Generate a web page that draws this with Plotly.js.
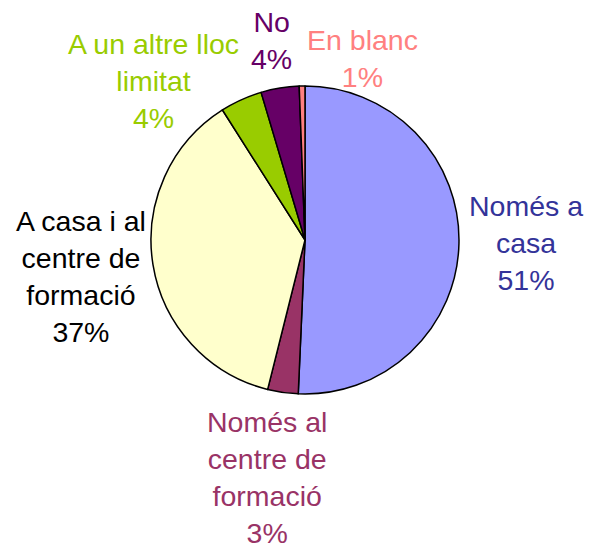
<!DOCTYPE html>
<html>
<head>
<meta charset="utf-8">
<script src="https://cdn.plot.ly/plotly-3.0.1.min.js"></script>
<style>html,body{margin:0;padding:0;background:#fff;}#chart{width:590px;height:549px;}</style>
</head>
<body>
<div id="chart"></div>
<script>
const categories = ["Només a casa", "Només al centre de formació", "A casa i al centre de formació", "A un altre lloc limitat", "No", "En blanc"];
const values = [50.7, 3.2, 37.1, 4.4, 4.0, 0.6];
const pctLabels = ["51%", "3%", "37%", "4%", "4%", "1%"];
const labelLines = [["Només a", "casa"], ["Només al", "centre de", "formació"], ["A casa i al", "centre de", "formació"], ["A un altre lloc", "limitat"], ["No"], ["En blanc"]];
const sliceColors = ["#9999FF", "#993366", "#FFFFCC", "#99CC00", "#660066", "#FF8080"];
const textColors = ["#333399", "#993366", "#000000", "#99CC00", "#660066", "#FF8080"];

const W = 590, H = 549;
const cx = 305, cy = 240, r = 154;
// label anchor centres (px) of the text blocks
const labelPos = [[526, 243], [267, 477], [81, 276], [153, 81], [271, 40], [362, 59]];

const annotations = categories.map((c, i) => ({
  text: labelLines[i].concat([pctLabels[i]]).join("<br>"),
  x: labelPos[i][0] / W, y: 1 - labelPos[i][1] / H,
  xref: "paper", yref: "paper", xanchor: "center", yanchor: "middle",
  showarrow: false, align: "center",
  font: {family: "Liberation Sans, Arial, sans-serif", size: 28.5, color: textColors[i]}
}));

const trace = {
  type: "pie",
  labels: categories,
  values: values,
  sort: false,
  direction: "clockwise",
  rotation: 0,
  textinfo: "none",
  hoverinfo: "label+percent",
  marker: {colors: sliceColors, line: {color: "#000000", width: 1.5}},
  domain: {x: [(cx - r) / W, (cx + r) / W], y: [1 - (cy + r) / H, 1 - (cy - r) / H]},
  showlegend: false
};

Plotly.newPlot("chart", [trace], {
  width: W, height: H,
  margin: {l: 0, r: 0, t: 0, b: 0},
  paper_bgcolor: "#ffffff",
  showlegend: false,
  annotations: annotations
}, {displayModeBar: false, staticPlot: true});
</script>
</body>
</html>
